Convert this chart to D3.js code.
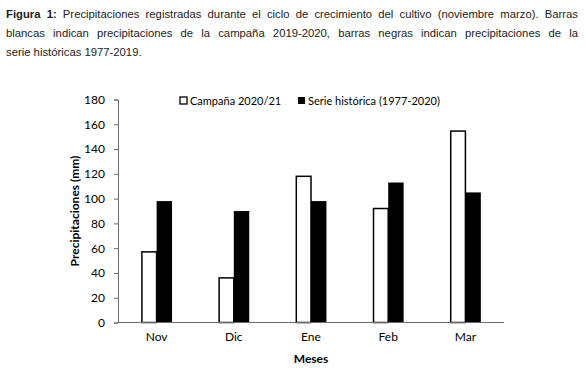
<!DOCTYPE html>
<html>
<head>
<meta charset="utf-8">
<script src="https://cdn.jsdelivr.net/npm/d3@7"></script>
<style>
  body { margin: 0; background: #fff; }
</style>
</head>
<body>
<div id="chart"></div>
<script>
var months = ["Nov", "Dic", "Ene", "Feb", "Mar"];
var seriesNames = ["Campaña 2020/21", "Serie histórica (1977-2020)"];
var campana = [57, 36, 118, 92, 154.5];
var historica = [98, 90, 98, 113, 105];
var yTicks = [0, 20, 40, 60, 80, 100, 120, 140, 160, 180];
var captionLines = [
  ["Figura 1:", "Precipitaciones registradas durante el ciclo de crecimiento del cultivo (noviembre marzo). Barras"],
  ["", "blancas indican precipitaciones de la campaña 2019-2020, barras negras indican precipitaciones de la"],
  ["", "serie históricas 1977-2019."]
];

var W = 585, H = 371;
var fontChart = "Lato, 'Open Sans', sans-serif";

var svg = d3.select("#chart")
  .append("svg")
  .attr("width", W)
  .attr("height", H);

// caption (justified on the first two lines)
var capLeft = 6, capRight = 578;
captionLines.forEach(function(line, i) {
  var words = [];
  if (line[0]) line[0].split(" ").forEach(function(w) { words.push({t: w, b: true}); });
  line[1].split(" ").forEach(function(w) { words.push({t: w, b: false}); });
  var yy = 18 + i * 19;
  var nodes = words.map(function(w) {
    return svg.append("text")
      .attr("y", yy)
      .style("font-family", "'Liberation Sans', Arial, sans-serif")
      .style("font-size", "11.3px")
      .style("font-weight", w.b ? "bold" : "normal")
      .attr("fill", "#222")
      .text(w.t);
  });
  var widths = nodes.map(function(n) { return n.node().getComputedTextLength(); });
  var total = d3.sum(widths);
  var gap = i < 2 ? (capRight - capLeft - total) / (words.length - 1) : 3.1;
  var xx = capLeft;
  nodes.forEach(function(n, k) {
    n.attr("x", xx);
    xx += widths[k] + gap;
  });
});

// plot area
var plotLeft = 118, plotRight = 504, plotTop = 99.5, plotBottom = 322.5;

var x = d3.scaleBand()
  .domain(months)
  .range([plotLeft, plotRight])
  .paddingInner(0.6)
  .paddingOuter(0.3);

var xs = d3.scaleBand()
  .domain(seriesNames)
  .range([0, x.bandwidth()]);

var y = d3.scaleLinear()
  .domain([0, 180])
  .range([plotBottom, plotTop]);

var axisColor = "#6b6b6b";

// y axis
var yAxis = svg.append("g")
  .attr("transform", "translate(" + plotLeft + ",0)")
  .call(d3.axisLeft(y).tickValues(yTicks).tickSize(4).tickSizeOuter(4).tickPadding(9));
yAxis.select(".domain").attr("stroke", axisColor);
yAxis.selectAll(".tick line").attr("stroke", axisColor);
yAxis.selectAll(".tick text")
  .style("font-family", fontChart)
  .style("font-size", "12px")
  .attr("fill", "#000");

// bars
var data = months.map(function(m, i) {
  return {month: m, values: [campana[i], historica[i]]};
});

var groups = svg.append("g")
  .selectAll("g")
  .data(data)
  .enter()
  .append("g")
  .attr("transform", function(d) { return "translate(" + x(d.month) + ",0)"; });

groups.selectAll("rect")
  .data(function(d) { return d.values.map(function(v, k) { return {v: v, s: seriesNames[k], k: k}; }); })
  .enter()
  .append("rect")
  .attr("x", function(d) { return xs(d.s) + (d.k === 0 ? 0.75 : 0); })
  .attr("y", function(d) { return y(d.v); })
  .attr("width", function(d) { return xs.bandwidth() - (d.k === 0 ? 0.75 : 0); })
  .attr("height", function(d) { return plotBottom - y(d.v); })
  .attr("fill", function(d) { return d.k === 0 ? "#fff" : "#000"; })
  .attr("stroke", "#000")
  .attr("stroke-width", function(d) { return d.k === 0 ? 1.5 : 0; });

// x axis
var xAxis = svg.append("g")
  .attr("transform", "translate(0," + plotBottom + ")")
  .call(d3.axisBottom(x).tickSize(0).tickPadding(10));
xAxis.select(".domain").attr("stroke", axisColor).attr("d", "M" + plotLeft + ",0H" + plotRight);
xAxis.selectAll(".tick text")
  .style("font-family", fontChart)
  .style("font-size", "12px")
  .attr("fill", "#000");

// axis titles
svg.append("text")
  .attr("x", (plotLeft + plotRight) / 2)
  .attr("y", 363)
  .attr("text-anchor", "middle")
  .style("font-family", fontChart)
  .style("font-size", "12px")
  .style("font-weight", "bold")
  .text("Meses");

svg.append("text")
  .attr("transform", "translate(79," + ((plotTop + plotBottom) / 2) + ") rotate(-90)")
  .attr("text-anchor", "middle")
  .style("font-family", fontChart)
  .style("font-size", "12px")
  .style("font-weight", "bold")
  .text("Precipitaciones (mm)");

// legend
var legendX = [180, 298];
seriesNames.forEach(function(s, i) {
  svg.append("rect")
    .attr("x", legendX[i])
    .attr("y", 97)
    .attr("width", 7)
    .attr("height", 7)
    .attr("fill", i === 0 ? "#fff" : "#000")
    .attr("stroke", "#000")
    .attr("stroke-width", i === 0 ? 1.3 : 0);
  svg.append("text")
    .attr("x", legendX[i] + 10)
    .attr("y", 105)
    .style("font-family", fontChart)
    .style("font-size", "11px")
    .text(s);
});
</script>
</body>
</html>
